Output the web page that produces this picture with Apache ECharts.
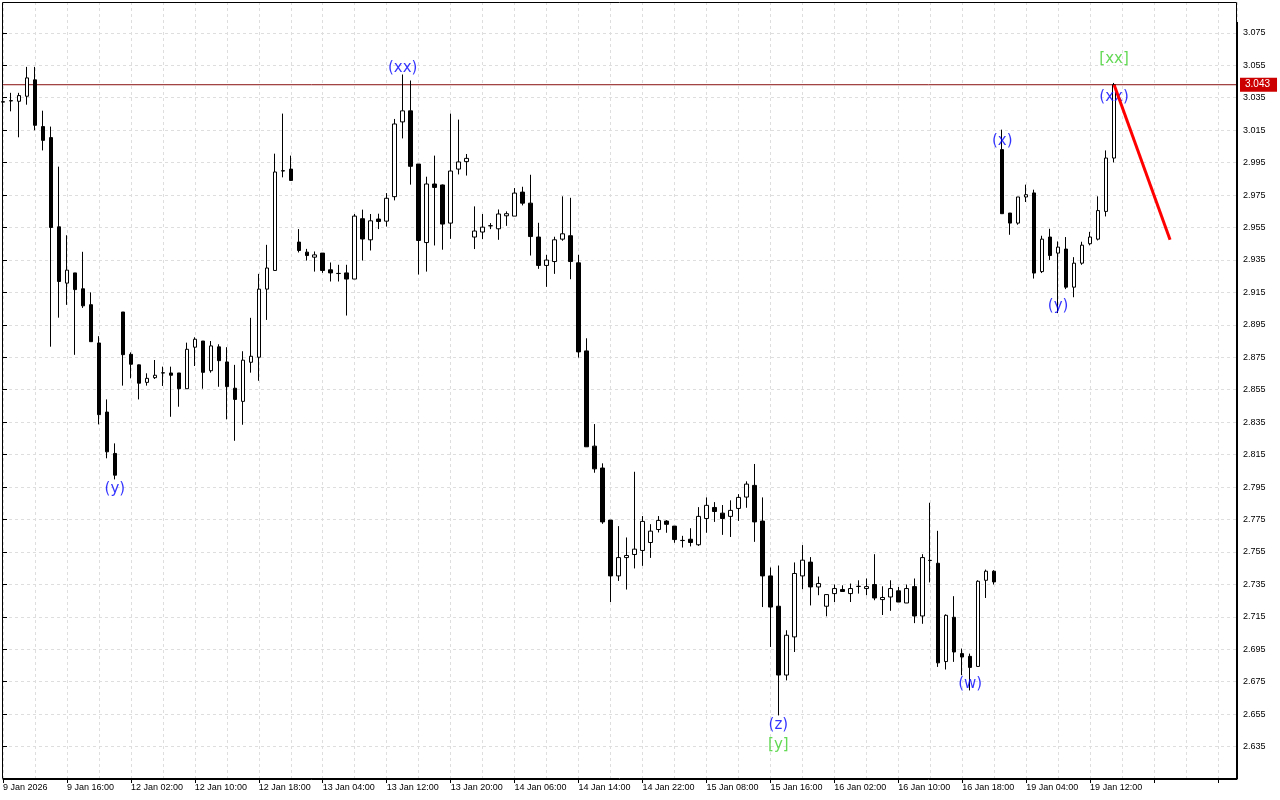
<!DOCTYPE html>
<html>
<head>
<meta charset="utf-8">
<script src="https://cdn.jsdelivr.net/npm/echarts@6/dist/echarts.min.js"></script>
<style>html,body{margin:0;padding:0;background:#fff;}#c{width:1280px;height:800px;}</style>
</head>
<body>
<div id="c"></div>
<script>
// Hourly bars, bar 0 = 9 Jan 2026 08:00
const opens = [3.0325,3.0332,3.0328,3.0359,3.046,3.0172,3.0104,2.9554,2.9207,2.927,
2.9172,2.9074,2.8838,2.8412,2.8157,2.9029,2.8768,2.8703,2.8595,2.8624,
2.8654,2.8653,2.8653,2.8556,2.8812,2.885,2.8667,2.8814,2.8721,2.8559,
2.8478,2.8719,2.875,2.917,2.9285,2.9900,2.991,2.946,2.9398,2.9367,
2.9392,2.9289,2.9267,2.927,2.9232,2.9604,2.9474,2.9602,2.9589,2.974,
3.0201,3.0269,2.9941,2.9457,2.9818,2.9812,2.9577,2.991,2.9956,2.9491,
2.9522,2.9561,2.9542,2.9622,2.962,2.9768,2.970,2.9491,2.9316,2.934,
2.9478,2.9499,2.9332,2.8789,2.8202,2.8067,2.7746,2.7402,2.7515,2.7534,
2.7559,2.7608,2.7688,2.774,2.7709,2.7621,2.7628,2.7594,2.7756,2.7824,
2.7789,2.7769,2.7818,2.7888,2.796,2.774,2.7402,2.7215,2.6791,2.7026,
2.7402,2.7487,2.7334,2.7215,2.7293,2.7318,2.7293,2.7337,2.7324,2.7349,
2.7256,2.7272,2.731,2.7235,2.7336,2.7155,2.7498,2.748,2.6874,2.7147,
2.6923,2.6906,2.6844,2.7375,2.7431,3.003,2.9639,2.9577,2.9738,2.9763,
2.9278,2.9491,2.9392,2.9417,2.9182,2.933,2.945,2.9478,2.9649,2.9978];
const closes = [3.0323,3.033,3.0363,3.0472,3.018,3.0087,2.955,2.9217,2.9287,2.9167,
2.9067,2.8846,2.8396,2.8167,2.8023,2.8766,2.8707,2.859,2.862,2.8639,
2.8653,2.8639,2.8556,2.8799,2.8861,2.8657,2.882,2.8729,2.8569,2.849,
2.8732,2.8756,2.917,2.930,2.9892,2.9898,2.984,2.9408,2.9377,2.9381,
2.9285,2.927,2.9266,2.9232,2.962,2.9479,2.9591,2.9587,2.973,3.0188,
3.0269,2.9927,2.947,2.9818,2.9797,2.9571,2.9898,2.9954,2.9976,2.9528,
2.9552,2.956,2.9633,2.9635,2.9762,2.970,2.9494,2.9316,2.9349,2.9474,
2.9511,2.934,2.8783,2.8198,2.8062,2.7735,2.7402,2.7515,2.7528,2.7567,
2.7738,2.7678,2.7744,2.772,2.7626,2.762,2.7608,2.7769,2.7837,2.7799,
2.7756,2.7806,2.7886,2.7968,2.7735,2.7402,2.721,2.6791,2.7036,2.7417,
2.7499,2.7334,2.7355,2.7287,2.7324,2.7306,2.7324,2.7338,2.7336,2.7266,
2.7269,2.7324,2.7241,2.7324,2.7155,2.7515,2.7497,2.6866,2.7159,2.6933,
2.6902,2.6838,2.7369,2.7431,2.7365,2.9635,2.9577,2.9738,2.9752,2.9269,
2.9478,2.9377,2.9429,2.9182,2.933,2.9441,2.9491,2.9654,2.9978,3.0431];
const lows = [3.031,3.0266,3.0106,3.0307,3.0149,3.0025,2.8815,2.8994,2.9073,2.8765,
2.9054,2.8846,2.8336,2.8127,2.7997,2.8575,2.862,2.849,2.8575,2.8616,
2.8573,2.8383,2.8445,2.8556,2.8696,2.8556,2.8655,2.8568,2.8367,2.8235,
2.8334,2.8655,2.8605,2.898,2.9285,2.9859,2.984,2.9396,2.9346,2.9278,
2.927,2.9217,2.9217,2.9007,2.9232,2.9346,2.9408,2.954,2.9556,2.9717,
3.0099,2.9814,2.926,2.9278,2.9439,2.9413,2.948,2.9877,2.987,2.9417,
2.9478,2.954,2.9474,2.956,2.962,2.9686,2.9377,2.9295,2.9184,2.9264,
2.9468,2.9231,2.8748,2.8198,2.8038,2.7723,2.7241,2.7371,2.7318,2.7448,
2.7464,2.7513,2.767,2.7668,2.7606,2.7577,2.7584,2.7587,2.7668,2.7735,
2.7655,2.7642,2.7741,2.7822,2.7612,2.721,2.6964,2.6542,2.6758,2.6933,
2.732,2.722,2.7283,2.7153,2.7241,2.7303,2.7241,2.7293,2.7283,2.7252,
2.7161,2.7187,2.7241,2.7235,2.7111,2.7107,2.7362,2.6841,2.6825,2.6872,
2.679,2.6696,2.6844,2.7266,2.7349,2.9635,2.9505,2.9567,2.9707,2.9235,
2.9269,2.935,2.9022,2.917,2.912,2.932,2.944,2.947,2.9618,2.9951];
const highs = [3.034,3.038,3.038,3.054,3.054,3.027,3.0172,2.9925,2.9502,2.927,
2.940,2.915,2.888,2.849,2.8219,2.9029,2.878,2.8705,2.8651,2.8733,
2.8692,2.8692,2.8653,2.884,2.8873,2.885,2.885,2.883,2.8812,2.8703,
2.8787,2.8993,2.9264,2.9443,3.0005,3.0252,2.9993,2.954,2.9418,2.9402,
2.9392,2.9334,2.932,2.932,2.9633,2.966,2.9633,2.9635,2.9762,3.0219,
3.0493,3.0456,2.9941,2.9863,2.9993,2.9815,3.0252,3.0215,3.0003,2.968,
2.9633,2.9577,2.9661,2.9649,2.9793,2.9801,2.9875,2.9579,2.9381,2.9493,
2.9742,2.9733,2.9381,2.8867,2.8338,2.8096,2.7746,2.7709,2.7639,2.8044,
2.7771,2.7721,2.7771,2.7746,2.7709,2.7649,2.7696,2.7826,2.7886,2.7857,
2.7839,2.7868,2.7906,2.7985,2.8092,2.7886,2.7454,2.7466,2.7067,2.7485,
2.7592,2.7518,2.7398,2.7287,2.7349,2.7344,2.7355,2.7375,2.7386,2.7536,
2.7338,2.7375,2.7334,2.7349,2.7386,2.7536,2.7853,2.768,2.7165,2.7277,
2.6954,2.6923,2.7375,2.7441,2.7437,3.0153,2.9639,2.9738,2.9814,2.9783,
2.9499,2.9542,2.9464,2.9491,2.9367,2.9462,2.9523,2.9742,3.0025,3.0441];

const timeLabels = ["9 Jan 2026","9 Jan 16:00","12 Jan 02:00","12 Jan 10:00","12 Jan 18:00",
"13 Jan 04:00","13 Jan 12:00","13 Jan 20:00","14 Jan 06:00","14 Jan 14:00","14 Jan 22:00",
"15 Jan 08:00","15 Jan 16:00","16 Jan 02:00","16 Jan 10:00","16 Jan 18:00","19 Jan 04:00","19 Jan 12:00"];
const priceLabels = ["2.635","2.655","2.675","2.695","2.715","2.735","2.755","2.775","2.795",
"2.815","2.835","2.855","2.875","2.895","2.915","2.935","2.955","2.975","2.995","3.015",
"3.035","3.055","3.075"];
const lastPrice = 3.043;

const waveIdx   = [14, 50, 97, 97, 121, 125, 132, 139, 139];
const wavePrice = [2.7935, 3.053, 2.6485, 2.636, 2.6735, 3.0082, 2.9065, 3.0356, 3.059];
const waveText  = ["(y)","(xx)","(z)","[y]","(w)","(x)","(y)","(xx)","[xx]"];

const forecastIdx   = [139, 146];
const forecastPrice = [3.043, 2.9475];

const BARS_PER_LABEL = 8;
const XMAX = 154.375;
const candleData = opens.map((o, i) => [i, o, closes[i], lows[i], highs[i]]);
const waveData = waveIdx.map((x, i) => ({
  value: [x, wavePrice[i]],
  label: { formatter: waveText[i], color: waveText[i].charAt(0) === '[' ? '#3ccf2a' : '#0000ff' }
}));
const forecastData = forecastIdx.map((x, i) => [x, forecastPrice[i]]);
const priceLineData = [[0, lastPrice], [XMAX, lastPrice]];

const chart = echarts.init(document.getElementById('c'), null, { renderer: 'canvas' });
const G = { left: 2, right: 43, top: 2, bottom: 21 };
const gridLine = { show: true, lineStyle: { color: '#dedede', type: [3, 3], width: 1 } };

chart.setOption({
  animation: false,
  backgroundColor: '#ffffff',
  grid: { left: G.left, right: G.right, top: G.top, bottom: G.bottom, show: false },
  graphic: [{
    type: 'rect', z: 100, silent: true,
    shape: { x: G.left + 0.5, y: G.top + 0.5, width: 1280 - G.left - G.right - 1, height: 800 - G.top - G.bottom - 1 },
    style: { fill: 'none', stroke: '#000', lineWidth: 1 }
  }, {
    type: 'line', z: 100, silent: true,
    shape: { x1: 1280 - G.right, y1: 22, x2: 1280 - G.right, y2: 800 - G.bottom },
    style: { stroke: '#000', lineWidth: 2 }
  }],
  xAxis: [{
    type: 'value', min: 0, max: XMAX, interval: BARS_PER_LABEL,
    axisLine: { show: true, onZero: false, lineStyle: { color: '#000', width: 1 } },
    axisTick: { show: true, length: 4, lineStyle: { color: '#000' } },
    splitLine: { show: false },
    axisLabel: {
      show: true, align: 'left', margin: 4, padding: [0, 0, 0, 0],
      fontFamily: 'Liberation Sans, Arial, sans-serif', fontSize: 9, color: '#000',
      showMaxLabel: false,
      formatter: v => { const k = v / BARS_PER_LABEL; return Number.isInteger(k) && timeLabels[k] ? timeLabels[k] : ''; }
    }
  }, {
    type: 'value', min: 0, max: XMAX, interval: BARS_PER_LABEL / 2, position: 'bottom',
    axisLine: { show: false }, axisTick: { show: false }, axisLabel: { show: false },
    splitLine: gridLine
  }],
  yAxis: {
    type: 'value', position: 'right', min: 2.615, max: 3.094, interval: 0.02, scale: true,
    axisLine: { show: false },
    axisTick: { show: true, length: 4, lineStyle: { color: '#000' } },
    splitLine: gridLine,
    axisLabel: {
      show: true, margin: 6, fontFamily: 'Liberation Sans, Arial, sans-serif', fontSize: 9, color: '#000',
      formatter: v => { const s = v.toFixed(3); return priceLabels.indexOf(s) >= 0 ? s : ''; }
    }
  },
  series: [{
    type: 'line',
    xAxisIndex: 0,
    data: priceLineData,
    symbol: 'none',
    silent: true,
    clip: false,
    lineStyle: { color: '#8a1010', width: 1 },
    endLabel: {
      show: true, distance: 3, formatter: lastPrice.toFixed(3),
      backgroundColor: '#cc0000', color: '#ffffff', padding: [3, 7, 1, 5],
      fontFamily: 'Liberation Sans, Arial, sans-serif', fontSize: 10
    },
    z: 1
  }, {
    type: 'candlestick',
    xAxisIndex: 0,
    data: candleData,
    barWidth: 4,
    clip: true,
    itemStyle: { color: '#ffffff', color0: '#000000', borderColor: '#000000', borderColor0: '#000000', borderColorDoji: '#000000', borderWidth: 1 },
    z: 2
  }, {
    type: 'scatter',
    xAxisIndex: 0,
    data: waveData,
    symbolSize: 1,
    itemStyle: { color: 'rgba(0,0,0,0)' },
    label: { show: true, position: 'inside', fontFamily: 'DejaVu Sans, sans-serif', fontSize: 15 },
    z: 3
  }, {
    type: 'line',
    xAxisIndex: 0,
    data: forecastData,
    symbol: 'none',
    lineStyle: { color: '#ff0000', width: 3 },
    z: 4
  }]
});
</script>
</body>
</html>
